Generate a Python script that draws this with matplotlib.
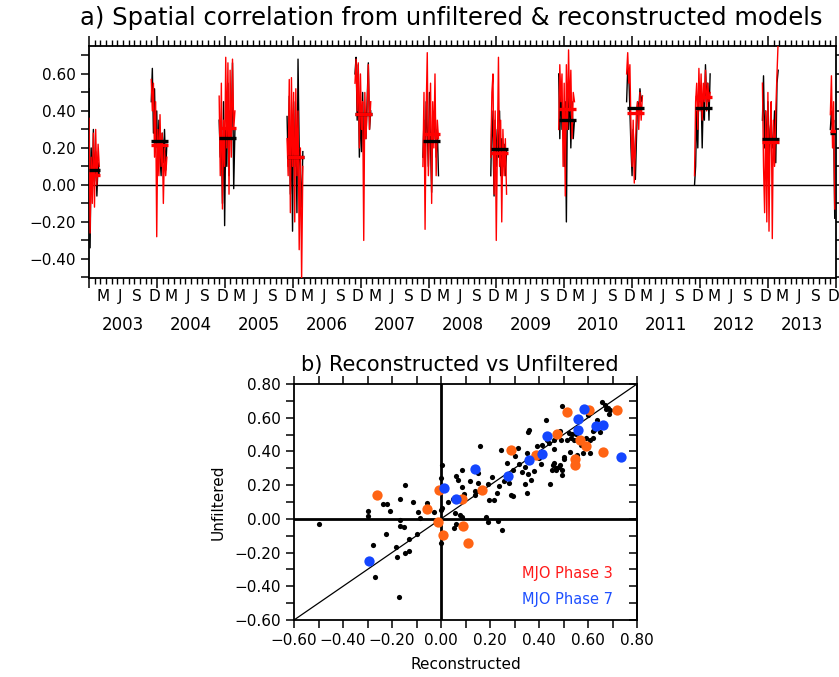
import matplotlib
matplotlib.use("Agg")
import matplotlib.pyplot as plt
import numpy as np
import pandas as pd
from matplotlib.ticker import MultipleLocator, FuncFormatter, NullFormatter

plt.rcParams['font.family'] = ['DejaVu Sans']

# ---------------- Panel a data ----------------
season_start = ['2003-01-01', '2003-12-01', '2004-12-01', '2005-12-01', '2006-12-01',
                '2007-12-01', '2008-12-01', '2009-12-01', '2010-12-01', '2011-12-01',
                '2012-12-01', '2013-12-01']
season_end = ['2003-03-01', '2004-03-01', '2005-03-01', '2006-03-01', '2007-03-01',
              '2008-03-01', '2009-03-01', '2010-03-01', '2011-03-01', '2012-03-01',
              '2013-03-01', '2014-03-01']

unf_2003 = [0.52, -0.34, 0.20, -0.05, 0.30, 0.02, 0.18, -0.06, 0.12, 0.05]
rec_2003 = [0.36, -0.26, 0.15, -0.10, 0.28, -0.12, 0.30, 0.00, 0.22, 0.10]
unf_2004 = [0.45, 0.63, 0.28, 0.52, 0.20, 0.40, 0.10, 0.35, 0.15, 0.05, 0.28, 0.12, 0.30, 0.08, 0.22]
rec_2004 = [0.57, 0.40, 0.55, 0.15, 0.45, -0.28, 0.30, 0.05, 0.38, 0.10, 0.28, -0.10, 0.20, 0.05, 0.15]
unf_2005 = [0.35, 0.15, 0.25, -0.10, 0.45, -0.22, 0.30, 0.10, 0.55, 0.05, 0.40, 0.25, 0.66, -0.02, 0.30]
rec_2005 = [0.48, 0.05, 0.55, -0.13, 0.35, 0.10, 0.69, 0.20, 0.66, -0.05, 0.62, 0.15, 0.68, 0.30, 0.40]
unf_2006 = [0.37, 0.10, 0.48, -0.05, 0.30, -0.25, 0.45, 0.10, 0.30, -0.15, 0.68, 0.20, 0.05, -0.12, 0.18]
rec_2006 = [0.25, 0.05, 0.57, -0.15, 0.58, 0.10, 0.50, -0.20, 0.52, 0.05, 0.40, -0.35, 0.20, -0.51, 0.10]
unf_2007 = [0.60, 0.69, 0.35, 0.65, 0.15, 0.40, 0.18, 0.50, 0.14, 0.35, 0.25, 0.45, 0.66, 0.30, 0.40]
rec_2007 = [0.55, 0.68, 0.40, 0.66, 0.20, 0.60, 0.30, 0.45, -0.30, 0.50, 0.25, 0.40, 0.65, 0.30, 0.45]
unf_2008 = [0.15, 0.35, 0.05, 0.45, 0.30, 0.10, 0.50, 0.20, -0.04, 0.40, 0.25, 0.45, 0.15, 0.30, 0.05]
rec_2008 = [0.10, 0.50, -0.24, 0.40, 0.715, 0.05, 0.30, 0.55, -0.10, 0.45, 0.20, 0.60, 0.05, 0.35, 0.25]
unf_2009 = [0.05, 0.40, 0.25, -0.06, 0.35, 0.10, 0.30, 0.15, 0.40, 0.05, 0.25, 0.10, 0.22, 0.05, 0.18]
rec_2009 = [0.15, 0.50, 0.60, -0.05, 0.40, -0.30, 0.20, 0.69, 0.10, 0.35, -0.20, 0.30, 0.05, 0.25, -0.05]
unf_2010 = [0.60, 0.25, 0.55, 0.30, 0.40, 0.10, 0.45, -0.20, 0.50, 0.30, 0.55, 0.20, 0.45, 0.25, 0.35]
rec_2010 = [0.30, 0.65, 0.45, 0.60, 0.10, 0.55, -0.06, 0.65, 0.30, 0.73, 0.40, 0.62, 0.25, 0.50, 0.45]
unf_2011 = [0.45, 0.63, 0.60, 0.40, 0.20, 0.05, 0.30, 0.15, 0.03, 0.25, 0.45, 0.40, 0.52, 0.45, 0.48]
rec_2011 = [0.60, 0.715, 0.55, 0.65, 0.30, 0.10, 0.35, 0.01, 0.20, 0.40, 0.45, 0.30, 0.50, 0.35, 0.48]
unf_2012 = [0.00, 0.10, 0.40, 0.20, 0.55, 0.45, 0.50, 0.20, 0.48, 0.35, 0.65, 0.45, 0.55, 0.35, 0.60]
rec_2012 = [0.05, 0.45, 0.55, 0.30, 0.63, 0.40, 0.60, 0.35, 0.55, 0.45, 0.62, 0.40, 0.55, 0.45, 0.50]
unf_2013 = [0.35, 0.59, 0.20, 0.40, 0.15, 0.45, 0.12, 0.30, 0.35, 0.20, 0.25, 0.40, 0.12, 0.55, 0.62]
rec_2013 = [0.55, 0.10, -0.15, 0.40, -0.20, 0.50, -0.25, 0.30, 0.45, -0.29, 0.35, 0.10, 0.40, 0.60, 0.78]
unf_2014 = [0.30, 0.40, 0.28, 0.35, -0.18]
rec_2014 = [0.38, 0.59, 0.20, 0.45, -0.13]

unf_seasons = [unf_2003, unf_2004, unf_2005, unf_2006, unf_2007, unf_2008,
               unf_2009, unf_2010, unf_2011, unf_2012, unf_2013, unf_2014]
rec_seasons = [rec_2003, rec_2004, rec_2005, rec_2006, rec_2007, rec_2008,
               rec_2009, rec_2010, rec_2011, rec_2012, rec_2013, rec_2014]

mean_unf = [0.08, 0.24, 0.255, 0.153, 0.385, 0.24, 0.196, 0.35, 0.418, 0.414, 0.25, 0.28]
mean_rec = [0.055, 0.216, 0.306, 0.153, 0.385, 0.274, 0.17, 0.41, 0.39, 0.477, 0.23, 0.29]

month_letters = ['M', 'J', 'S', 'D']
years = ['2003', '2004', '2005', '2006', '2007', '2008', '2009', '2010', '2011', '2012', '2013']

# ---------------- Panel b data ----------------
all_rec = [-0.50, -0.30, -0.30, -0.279, -0.268, -0.238, -0.221, -0.21, -0.224, -0.167, -0.145,
           -0.167, -0.167, -0.153, -0.183, -0.178, -0.145, -0.131, -0.131, -0.172, -0.115, -0.093,
           -0.085, -0.096, -0.059, -0.03, 0.0, 0.005, 0.005, 0.0, 0.0, 0.027, 0.049, 0.057, 0.077,
           0.085, 0.052, 0.06, 0.063, 0.068, 0.087, 0.085, 0.093, 0.12, 0.150, 0.150, 0.139, 0.137,
           0.161, 0.183, 0.191, 0.191, 0.197, 0.216, 0.23, 0.232, 0.25, 0.238, 0.243, 0.257, 0.276,
           0.284, 0.292, 0.314, 0.292, 0.320, 0.331, 0.344, 0.355, 0.361, 0.350, 0.355, 0.352,
           0.342, 0.369, 0.380, 0.380, 0.393, 0.407, 0.413, 0.429, 0.434, 0.445, 0.454, 0.456,
           0.462, 0.462, 0.484, 0.489, 0.495, 0.495, 0.50, 0.503, 0.484, 0.47, 0.492, 0.516, 0.522,
           0.525, 0.533, 0.544, 0.555, 0.552, 0.598, 0.579, 0.593, 0.607, 0.607, 0.62, 0.626,
           0.637, 0.65, 0.658, 0.669, 0.675, 0.683, 0.686, 0.691, 0.462, 0.47, 0.48, 0.27, 0.30,
           0.21, 0.40, 0.44, 0.53, 0.57, 0.62]
all_unf = [-0.03, 0.045, 0.015, -0.158, -0.346, 0.087, 0.09, 0.047, -0.091, 0.12, 0.20,
           -0.005, -0.04, -0.048, -0.166, -0.225, -0.20, -0.188, -0.12, -0.464, 0.098, 0.039,
           0.006, -0.087, 0.095, 0.043, 0.05, 0.065, 0.32, 0.243, -0.146, 0.099, 0.119, 0.032, 0.02,
           0.012, -0.055, -0.03, 0.257, 0.233, 0.289, 0.188, 0.146, 0.227, 0.273, 0.213, 0.164, 0.14,
           0.431, 0.012, -0.02, 0.209, 0.111, 0.111, 0.154, -0.012, -0.067, 0.194, 0.411, 0.225,
           0.213, 0.142, 0.134, 0.423, 0.289, 0.328, 0.277, 0.308, 0.518, 0.53, 0.391, 0.265,
           0.154, 0.209, 0.233, 0.285, 0.383, 0.435, 0.324, 0.439, 0.585, 0.47, 0.209, 0.289, 0.32,
           0.466, 0.415, 0.522, 0.466, 0.292, 0.261, 0.356, 0.368, 0.32, 0.30, 0.672, 0.466, 0.51,
           0.399, 0.502, 0.47, 0.379, 0.502, 0.617, 0.391, 0.478, 0.391, 0.47, 0.478, 0.526,
           0.589, 0.518, 0.692, 0.676, 0.652, 0.66, 0.625, 0.644, 0.33, 0.29, 0.31, 0.33, 0.37,
           0.25, 0.36, 0.45, 0.48, 0.44, 0.52]

ph3_rec = [-0.262, -0.057, -0.014, -0.008, 0.008, 0.085, 0.09, 0.112, 0.169, 0.284, 0.388,
           0.473, 0.514, 0.546, 0.546, 0.568, 0.59, 0.604, 0.661, 0.719]
ph3_unf = [0.14, 0.061, -0.02, 0.174, -0.095, 0.115, -0.043, -0.146, 0.17, 0.411, 0.379,
           0.506, 0.632, 0.356, 0.32, 0.47, 0.435, 0.648, 0.399, 0.648]
ph7_rec = [-0.294, 0.011, 0.06, 0.139, 0.273, 0.358, 0.413, 0.432, 0.56, 0.56, 0.582,
           0.634, 0.661, 0.735]
ph7_unf = [-0.249, 0.186, 0.115, 0.294, 0.253, 0.348, 0.383, 0.49, 0.593, 0.53, 0.652,
           0.553, 0.557, 0.368]

ORANGE = '#FF6414'
BLUE = '#1446FF'


def fmt(v, _):
    if abs(v) < 1e-9:
        v = 0.0
    return f"{v:.2f}".replace('-', '\u2212')


def to_month(ts):
    ts = pd.Timestamp(ts)
    return (ts.year - 2003) * 12 + (ts.month - 1) + (ts.day - 1) / ts.days_in_month


fig = plt.figure(figsize=(8.39, 6.77), dpi=100)

# ================= Panel a =================
ax = fig.add_axes([89 / 839, 1 - 278 / 677, (836 - 89) / 839, (278 - 46) / 677])
for st, en, u, r, mu, mr in zip(season_start, season_end, unf_seasons, rec_seasons, mean_unf, mean_rec):
    dates = pd.date_range(st, periods=len(u), freq='6D')
    xs = [to_month(d) for d in dates]
    ax.plot(xs, u, color='black', lw=1.0, zorder=3)
    ax.plot(xs, r, color='red', lw=1.0, zorder=4)
    x0, x1 = to_month(st), to_month(en)
    ax.hlines(mu, x0, x1, color='black', lw=2.4, zorder=5)
    ax.hlines(mr, x0, x1, color='red', lw=2.4, zorder=6)

ax.axhline(0, color='black', lw=1.0, zorder=2)
ax.set_xlim(0, 132)
ax.set_ylim(-0.503, 0.751)
ax.yaxis.set_major_locator(MultipleLocator(0.2))
ax.yaxis.set_minor_locator(MultipleLocator(0.1))
ax.yaxis.set_major_formatter(FuncFormatter(fmt))
ax.xaxis.set_major_locator(MultipleLocator(12))
ax.xaxis.set_minor_locator(MultipleLocator(1))
ax.xaxis.set_major_formatter(NullFormatter())
ax.tick_params(axis='x', which='major', direction='out', length=7, width=1.1, top=True, bottom=True,
               labelbottom=False)
ax.tick_params(axis='x', which='minor', direction='out', length=4, width=1.0, top=True, bottom=True)
ax.tick_params(axis='y', which='both', direction='out', length=6, width=1.1, left=True, right=True,
               labelsize=11)
for s in ax.spines.values():
    s.set_linewidth(1.3)

month_pos = [2.5, 5.5, 8.5, 11.5]
for k in range(len(years)):
    for let, mp in zip(month_letters, month_pos):
        ax.annotate(let, xy=(12 * k + mp, 0), xycoords=('data', 'axes fraction'),
                    xytext=(0, -8), textcoords='offset points', ha='center', va='top', fontsize=11)
    ax.annotate(years[k], xy=(12 * k + 6, 0), xycoords=('data', 'axes fraction'),
                xytext=(0, -27), textcoords='offset points', ha='center', va='top', fontsize=12)

fig.text(451 / 839, 1 - 18 / 677, 'a) Spatial correlation from unfiltered & reconstructed models',
         ha='center', va='center', fontsize=17.5)

# ================= Panel b =================
bx = fig.add_axes([294 / 839, 1 - 620 / 677, (637 - 294) / 839, (620 - 384) / 677])
bx.plot([-0.6, 0.8], [-0.6, 0.8], color='black', lw=0.9, zorder=2)
bx.axhline(0, color='black', lw=2.0, zorder=2)
bx.axvline(0, color='black', lw=2.0, zorder=2)
bx.scatter(all_rec, all_unf, s=14, color='black', zorder=3, linewidths=0)
bx.scatter(ph3_rec, ph3_unf, s=55, color=ORANGE, zorder=4, linewidths=0)
bx.scatter(ph7_rec, ph7_unf, s=55, color=BLUE, zorder=5, linewidths=0)
bx.set_xlim(-0.6, 0.8)
bx.set_ylim(-0.6, 0.8)
for a in (bx.xaxis, bx.yaxis):
    a.set_major_locator(MultipleLocator(0.2))
    a.set_minor_locator(MultipleLocator(0.1))
    a.set_major_formatter(FuncFormatter(fmt))
bx.tick_params(axis='both', which='both', direction='out', length=6, width=1.1,
               top=True, right=False, labelsize=11)
sec = bx.secondary_yaxis('right')
sec.yaxis.set_major_locator(MultipleLocator(0.2))
sec.yaxis.set_minor_locator(MultipleLocator(0.1))
sec.yaxis.set_major_formatter(NullFormatter())
sec.tick_params(axis='y', which='both', direction='in', length=6, width=1.1)
sec.spines['right'].set_linewidth(1.3)
for s in bx.spines.values():
    s.set_linewidth(1.3)

bx.text(0.33, -0.325, 'MJO Phase 3', color='#FF1A1A', fontsize=10.5, ha='left', va='center')
bx.text(0.33, -0.48, 'MJO Phase 7', color='#1E50FF', fontsize=10.5, ha='left', va='center')
bx.set_xlabel('Reconstructed', fontsize=11, labelpad=6)
bx.set_ylabel('Unfiltered', fontsize=11, labelpad=6)
fig.text(460 / 839, 1 - 365 / 677, 'b) Reconstructed vs Unfiltered', ha='center', va='center',
         fontsize=15)

fig.savefig('out.png', dpi=100)
